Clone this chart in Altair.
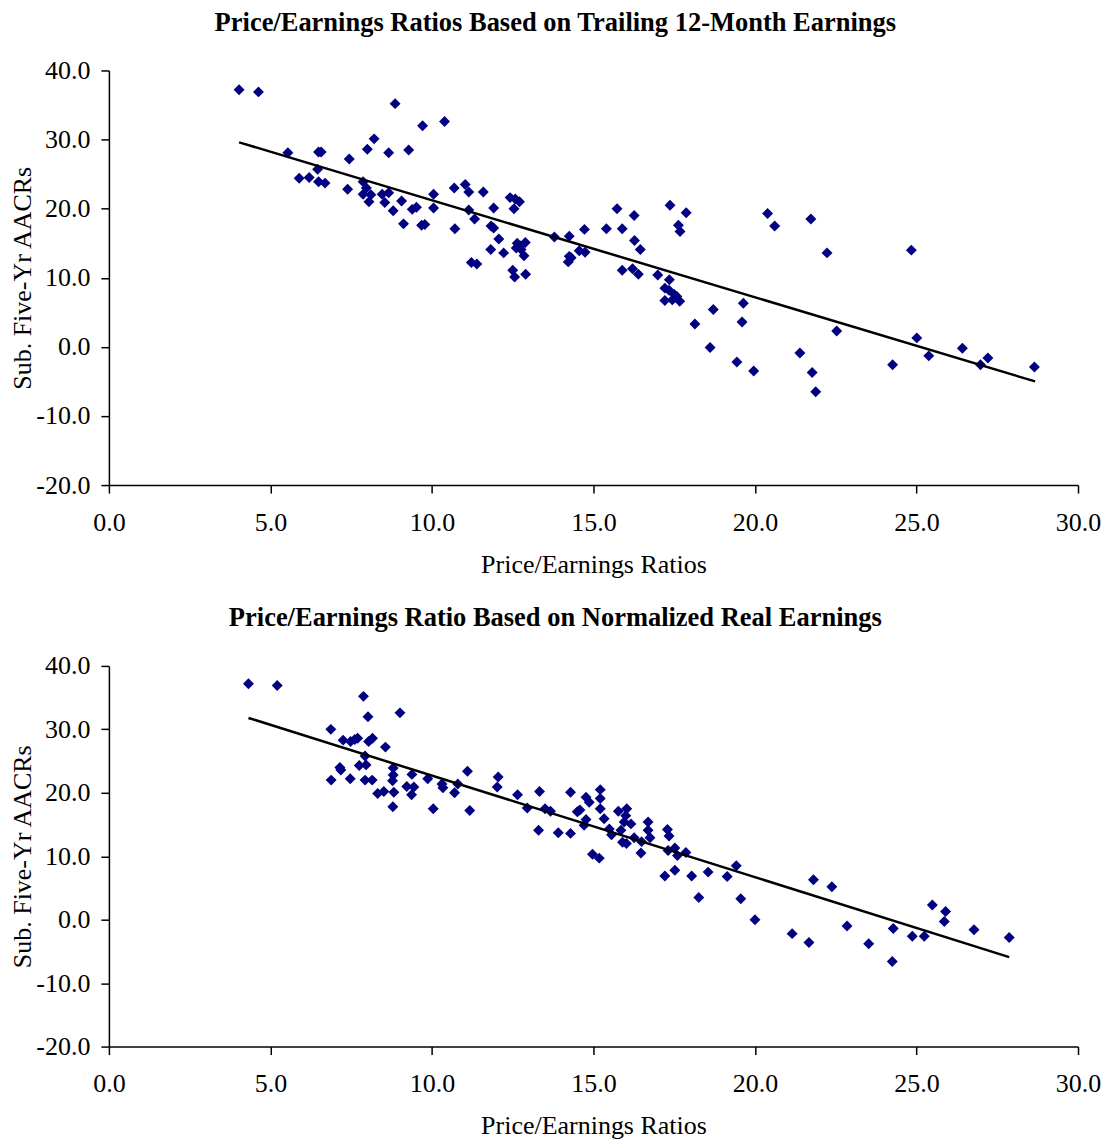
import altair as alt
import pandas as pd

# ---- data ----
x_ticks = [0, 5, 10, 15, 20, 25, 30]
y_ticks = [-20, -10, 0, 10, 20, 30, 40]

top_title = "Price/Earnings Ratios Based on Trailing 12-Month Earnings"
bottom_title = "Price/Earnings Ratio Based on Normalized Real Earnings"
x_title = "Price/Earnings Ratios"
y_title = "Sub. Five-Yr AACRs"

top_pe = [
    4.03, 4.63, 8.86, 9.71, 10.39, 8.21, 8.00, 8.66, 9.28, 5.54,
    6.49, 6.57, 7.44, 6.46, 5.89, 6.20, 6.49, 6.69, 7.39, 7.87,
    7.97, 7.87, 8.11, 8.05, 8.46, 8.66, 8.54, 9.06, 8.80, 9.39,
    9.52, 9.12, 9.68, 9.78, 10.05, 10.05, 10.69, 11.03, 11.14, 11.59,
    11.14, 11.32, 10.71, 11.91, 12.42, 12.58, 12.71, 12.54, 11.83, 11.91,
    12.07, 11.82, 12.22, 11.22, 11.39, 12.64, 12.74, 12.89, 12.61, 12.76,
    12.85, 12.50, 12.56, 12.90, 13.79, 14.25, 14.72, 14.25, 14.31, 14.22,
    14.56, 14.74, 15.40, 15.73, 16.26, 15.89, 16.27, 16.45, 15.89, 16.21,
    16.39, 16.99, 17.37, 17.87, 17.63, 17.68, 17.35, 17.21, 17.34, 17.50,
    17.58, 17.21, 17.44, 17.67, 18.71, 18.14, 19.64, 19.60, 18.61, 19.44,
    19.96, 20.39, 20.61, 21.73, 22.23, 22.53, 21.39, 21.77, 21.88, 24.84,
    25.01, 24.26, 25.38, 26.42, 26.98, 27.21, 28.65,
]
top_aacr = [
    37.2, 36.9, 35.2, 32.0, 32.6, 30.1, 28.6, 28.1, 28.5, 28.1,
    28.2, 28.2, 27.2, 25.7, 24.4, 24.5, 23.9, 23.7, 22.8, 23.9,
    23.0, 22.1, 22.0, 21.0, 22.1, 22.3, 20.9, 21.1, 19.7, 19.9,
    20.2, 17.8, 17.6, 17.7, 22.1, 20.1, 23.0, 23.5, 22.4, 22.4,
    19.8, 18.5, 17.1, 20.1, 21.6, 21.4, 21.0, 20.0, 17.5, 17.2,
    15.6, 14.1, 13.6, 12.2, 12.0, 15.0, 14.6, 15.1, 14.3, 14.1,
    13.2, 11.1, 10.1, 10.5, 15.9, 16.0, 17.0, 13.1, 12.9, 12.3,
    13.9, 13.7, 17.1, 20.0, 19.0, 17.1, 15.4, 14.1, 11.1, 11.3,
    10.5, 10.4, 20.5, 19.4, 17.6, 16.7, 9.7, 8.5, 8.2, 7.6,
    7.3, 6.7, 6.8, 6.6, 5.4, 3.3, 6.3, 3.6, -0.1, -2.2,
    -3.5, 19.3, 17.5, 18.5, 13.6, 2.3, -0.9, -3.7, -6.5, 14.0,
    1.3, -2.6, -1.3, -0.2, -2.6, -1.6, -2.9,
]
top_trend_pe = [4.03, 28.67]
top_trend_aacr = [29.6, -5.0]

bottom_pe = [
    4.32, 5.21, 7.88, 9.01, 8.02, 6.87, 7.25, 7.48, 7.61, 7.70,
    8.04, 8.16, 8.56, 7.93, 7.75, 7.96, 7.15, 7.18, 8.80, 8.80,
    8.78, 9.38, 9.87, 6.88, 7.47, 7.93, 8.15, 8.32, 8.51, 8.82,
    9.22, 9.44, 9.37, 10.31, 10.34, 10.70, 10.80, 8.79, 10.04, 11.10,
    11.17, 12.05, 12.02, 12.65, 12.95, 13.33, 13.50, 13.67, 13.30, 13.91,
    14.29, 14.29, 14.50, 14.58, 14.77, 14.87, 15.21, 15.21, 15.21, 14.77,
    14.71, 15.33, 15.49, 15.56, 14.97, 15.18, 15.77, 16.03, 16.00, 15.95,
    16.16, 15.85, 15.90, 16.02, 16.26, 16.49, 16.47, 16.69, 16.69, 16.75,
    17.29, 17.34, 17.31, 17.52, 17.60, 17.86, 17.21, 17.52, 18.04, 18.55,
    19.14, 19.42, 18.26, 19.56, 20.00, 21.15, 21.67, 21.81, 22.38, 22.85,
    23.52, 24.28, 24.25, 24.87, 25.24, 25.49, 25.90, 25.86, 26.78, 27.87,
]
bottom_aacr = [
    37.2, 36.9, 35.2, 32.6, 32.0, 30.0, 28.3, 28.1, 28.4, 28.6,
    28.1, 28.6, 27.2, 25.8, 24.3, 24.4, 24.0, 23.6, 23.9, 22.8,
    21.9, 22.9, 22.2, 22.0, 22.2, 22.0, 22.0, 19.9, 20.2, 20.1,
    21.0, 20.9, 19.7, 21.4, 20.8, 20.0, 21.4, 17.8, 17.5, 23.4,
    17.2, 22.5, 20.9, 19.7, 17.6, 20.2, 17.5, 17.1, 14.1, 13.7,
    20.1, 13.6, 17.0, 17.3, 19.3, 18.5, 20.5, 19.1, 17.5, 15.8,
    14.9, 15.9, 14.3, 13.4, 10.3, 9.7, 17.1, 17.5, 16.4, 15.4,
    15.1, 14.1, 12.2, 12.0, 12.9, 12.3, 10.5, 15.4, 14.1, 12.9,
    14.2, 13.2, 10.9, 11.3, 10.1, 10.6, 6.9, 7.8, 6.9, 7.5,
    6.8, 8.5, 3.5, 3.3, 0.0, -2.2, -3.6, 6.3, 5.2, -1.0,
    -3.8, -1.4, -6.6, -2.6, -2.6, 2.3, 1.3, -0.3, -1.6, -2.8,
]
bottom_trend_pe = [4.32, 27.87]
bottom_trend_aacr = [31.8, -5.9]

FONT = "Liberation Serif"
NAVY = "#000080"


def panel(pe, aacr, tpe, taacr, title, height):
    pts = pd.DataFrame({"pe": pe, "aacr": aacr})
    trend = pd.DataFrame({"pe": tpe, "aacr": taacr})
    x = alt.X(
        "pe:Q",
        scale=alt.Scale(domain=[0, 30], nice=False, zero=False),
        axis=alt.Axis(values=x_ticks, format=".1f", title=x_title,
                      labelFlush=False, labelOverlap=False,
                      labelPadding=16, titlePadding=16),
    )
    y = alt.Y(
        "aacr:Q",
        scale=alt.Scale(domain=[-20, 40], nice=False, zero=False),
        axis=alt.Axis(values=y_ticks, title=y_title,
                      labelExpr="datum.value < 0 ? '-' + format(-datum.value, '.1f') : format(datum.value, '.1f')",
                      labelFlush=False, labelOverlap=False,
                      labelPadding=11, titlePadding=0),
    )
    points = alt.Chart(pts).mark_point(
        shape="diamond", filled=True, color=NAVY, size=120, opacity=1
    ).encode(x=x, y=y)
    line = alt.Chart(trend).mark_line(color="black", strokeWidth=2.5).encode(x=x, y=y)
    return alt.layer(points, line).properties(
        width=970,
        height=height,
        title=alt.TitleParams(
            text=title, anchor="middle", frame="bounds", font=FONT,
            fontSize=26.5, fontWeight="bold", color="black", offset=21,
        ),
    )


top = panel(top_pe, top_aacr, top_trend_pe, top_trend_aacr, top_title, 415)
bottom = panel(bottom_pe, bottom_aacr, bottom_trend_pe, bottom_trend_aacr, bottom_title, 381)

chart = (
    alt.vconcat(top, bottom, spacing=28)
    .properties(padding={"left": 1, "top": 1, "right": 0, "bottom": 0},
                background="white")
    .configure_view(stroke=None)
    .configure_axis(
        grid=False,
        labelFont=FONT, labelFontSize=26, labelColor="black",
        titleFont=FONT, titleFontSize=26, titleFontWeight="normal", titleColor="black",
        domainColor="black", domainWidth=1.5,
        tickColor="black", tickWidth=1.5, tickSize=8,
    )
)

chart.save("out.html", embed_options={"renderer": "svg", "actions": False})
